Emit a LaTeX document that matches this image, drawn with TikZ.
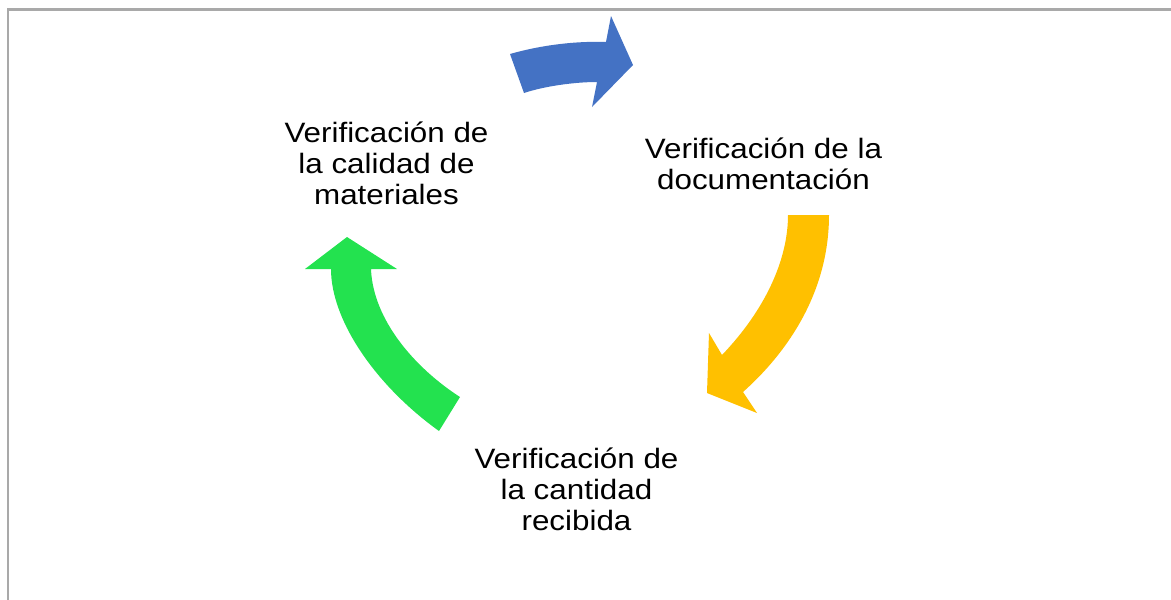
\documentclass[tikz,border=0pt]{standalone}
\usepackage{fontspec}
\setmainfont{Liberation Sans}[FakeStretch=1.12]
\definecolor{framegray}{HTML}{A9A9A9}
\definecolor{arrblue}{HTML}{4472C4}
\definecolor{arryellow}{HTML}{FFC000}
\definecolor{arrgreen}{HTML}{23E24F}
\begin{document}
\begin{tikzpicture}[x=1pt,y=-1pt,
  lbl/.style={align=center,inner sep=0pt,anchor=base,
    font=\fontsize{28}{31}\selectfont},
  frameline/.style={draw=framegray,line width=2.5pt}]
\useasboundingbox (0,0) rectangle (1171,600);
\draw[frameline] (7.8,601) -- (7.8,9.3) -- (1172,9.3);
% blue arrow
\fill[arrblue] (510,54) .. controls (545,44) and (580,41) .. (606,42)
  -- (611,16) -- (633,65) -- (592,107) -- (597,82)
  .. controls (575,82) and (545,86) .. (524,93) -- cycle;
% yellow arrow
\fill[arryellow] (829,215) .. controls (829,290) and (790,350) .. (743,392)
  -- (757,413) -- (707,393) -- (709,333) -- (722,355)
  .. controls (765,310) and (788,260) .. (788,215) -- cycle;
% green arrow
\fill[arrgreen] (460,397) -- (439,431) .. controls (375,385) and (331,320) .. (331,269)
  -- (305,269) -- (347,237) -- (397,269) -- (371,269)
  .. controls (373,320) and (415,368) .. (460,397) -- cycle;
\node[lbl] (calidad) at (386.5,204) {Verificación de\\la calidad de\\materiales};
\node[lbl] (docu) at (763.5,189.3) {Verificación de la\\documentación};
\node[lbl] (cantidad) at (576.5,530) {Verificación de\\la cantidad\\recibida};
\end{tikzpicture}
\end{document}
